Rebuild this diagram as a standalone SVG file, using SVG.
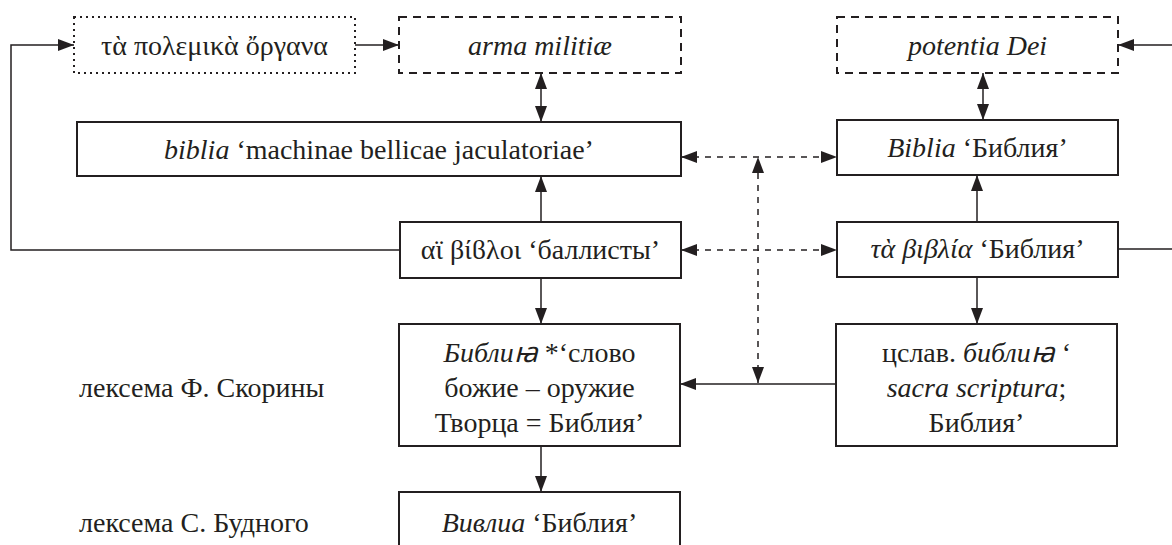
<svg xmlns="http://www.w3.org/2000/svg" width="1172" height="545" viewBox="0 0 1172 545" font-family="'Liberation Serif', 'Times New Roman', Times, serif">
<style>
.box{fill:#fff;stroke:#231f20;stroke-width:2}
.dashbox{fill:#fff;stroke:#231f20;stroke-width:2;stroke-dasharray:8 6}
.dotbox{fill:#fff;stroke:#231f20;stroke-width:2;stroke-dasharray:2 4}
.c{fill:none;stroke:#231f20;stroke-width:1.5}
.cd{fill:none;stroke:#231f20;stroke-width:1.5;stroke-dasharray:6 6}
text{font-family:'Liberation Serif','Times New Roman',Times,serif;font-size:28px;fill:#231f20}
.ctr{text-anchor:middle}
.it{font-style:italic}
</style>
<defs>
<marker id="ah" viewBox="0 0 16 12" refX="16" refY="6" markerWidth="16" markerHeight="12" markerUnits="userSpaceOnUse" orient="auto-start-reverse">
<path d="M0,0 L16,6 L0,12 Z" fill="#231f20"/>
</marker>
</defs>
<g id="connectors">
<path class="c" d="M400,250 H11 V45 H74" marker-end="url(#ah)"/>
<path class="c" d="M355,45 H399" marker-end="url(#ah)"/>
<path class="c" d="M541,73 V122" marker-start="url(#ah)" marker-end="url(#ah)"/>
<path class="c" d="M541,222 V176" marker-end="url(#ah)"/>
<path class="c" d="M541,278 V324" marker-end="url(#ah)"/>
<path class="c" d="M541,446 V492" marker-end="url(#ah)"/>
<path class="c" d="M1118,249 H1185 V45 H1118" marker-end="url(#ah)"/>
<path class="c" d="M983,73 V120" marker-start="url(#ah)" marker-end="url(#ah)"/>
<path class="c" d="M977,222 V175" marker-end="url(#ah)"/>
<path class="c" d="M977,277 V324" marker-end="url(#ah)"/>
<path class="cd" d="M681,157 H837" marker-start="url(#ah)" marker-end="url(#ah)"/>
<path class="cd" d="M681,250 H837" marker-start="url(#ah)" marker-end="url(#ah)"/>
<path class="cd" d="M758,383 V157" marker-start="url(#ah)" marker-end="url(#ah)"/>
<path class="c" d="M836,384 H680" marker-end="url(#ah)"/>
</g>
<g id="n-organa">
<rect class="dotbox" x="74" y="17" width="281" height="56"/>
<text class="ctr" x="214.5" y="55">τὰ πολεμικὰ ὄργανα</text>
</g>
<g id="n-arma">
<rect class="dashbox" x="399" y="17" width="282" height="56"/>
<text class="ctr it" x="540" y="55">arma militiæ</text>
</g>
<g id="n-potentia">
<rect class="dashbox" x="837" y="17" width="281" height="56"/>
<text class="ctr it" x="977.5" y="55">potentia Dei</text>
</g>
<g id="n-biblia">
<rect class="box" x="77" y="122" width="604" height="54"/>
<text class="ctr" x="379" y="159"><tspan class="it">biblia</tspan> ‘machinae bellicae jaculatoriae’</text>
</g>
<g id="n-Biblia">
<rect class="box" x="837" y="120" width="281" height="55"/>
<text class="ctr" x="977.5" y="157"><tspan class="it">Biblia</tspan> ‘Библия’</text>
</g>
<g id="n-bibloi">
<rect class="box" x="400" y="222" width="281" height="56"/>
<text class="ctr" x="540.5" y="259">αϊ βίϐλοι ‘баллисты’</text>
</g>
<g id="n-biblia-gr">
<rect class="box" x="837" y="222" width="281" height="55"/>
<text class="ctr" x="977.5" y="258"><tspan class="it">τὰ βιβλία</tspan> ‘Библия’</text>
</g>
<g id="n-skorina">
<rect class="box" x="399" y="324" width="281" height="122"/>
<text class="ctr" x="539.5" y="362"><tspan class="it">Библиꙗ</tspan> *‘слово</text>
<text class="ctr" x="539.5" y="397">божие – оружие</text>
<text class="ctr" x="539.5" y="432">Творца = Библия’</text>
</g>
<g id="n-cslav">
<rect class="box" x="836" y="324" width="281" height="122"/>
<text class="ctr" x="976.5" y="362">цслав. <tspan class="it">библиꙗ</tspan> ‘</text>
<text class="ctr" x="976.5" y="397"><tspan class="it">sacra scriptura</tspan>;</text>
<text class="ctr" x="976.5" y="432">Библия’</text>
</g>
<g id="n-budny">
<rect class="box" x="399" y="492" width="281" height="70"/>
<text class="ctr" x="539.5" y="532"><tspan class="it">Вивлиа</tspan> ‘Библия’</text>
</g>
<g id="labels">
<text x="79" y="397">лексема Ф. Скорины</text>
<text x="79" y="532">лексема С. Будного</text>
</g>
</svg>
